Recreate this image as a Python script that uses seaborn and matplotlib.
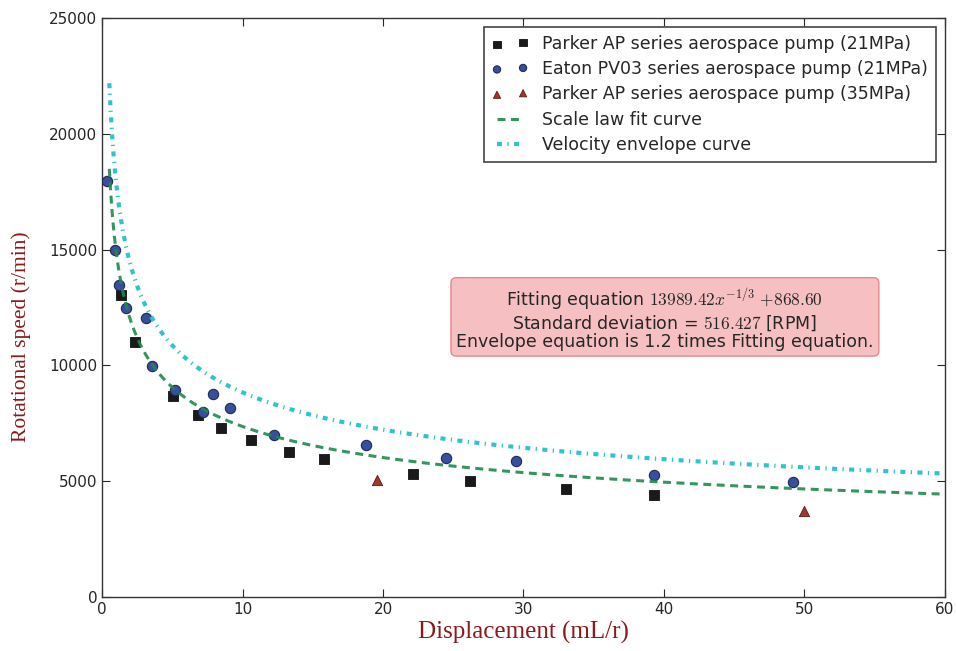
import numpy as np
import matplotlib
matplotlib.use('Agg')
import matplotlib.pyplot as plt
import seaborn as sns

# Parker AP series (21MPa)
parker21_x = [1.35, 2.35, 5.05, 6.83, 8.47, 10.6, 13.3, 15.8, 22.1, 26.2, 33.0, 39.3]
parker21_y = [13040, 11010, 8680, 7860, 7300, 6780, 6260, 5960, 5310, 5010, 4660, 4400]
# Eaton PV03 series (21MPa)
eaton_x = [0.36, 0.93, 1.2, 1.7, 3.13, 3.56, 5.2, 7.19, 7.9, 9.1, 12.2, 18.8, 24.5, 29.5, 39.3, 49.2]
eaton_y = [17960, 14980, 13470, 12480, 12050, 9970, 8940, 7990, 8770, 8160, 7000, 6560, 6000, 5870, 5270, 4970]
# Parker AP series (35MPa)
parker35_x = [19.6, 50.0]
parker35_y = [5050, 3710]

# fit coefficients from the annotation
fit_a, fit_b, fit_p = 13989.42, 868.60, -1.0 / 3.0
env_factor = 1.2

sns.set_style('ticks')
plt.rcParams['font.family'] = ['DejaVu Sans']
plt.rcParams['mathtext.fontset'] = 'cm'

fig = plt.figure(figsize=(9.56, 6.51), dpi=100)
ax = fig.add_axes([0.107, 0.083, 0.881, 0.889])  # box

xs = np.linspace(0.5, 60, 600)
fit_y = fit_a * xs ** fit_p + fit_b
env_y = env_factor * fit_y

sns.scatterplot(x=parker21_x, y=parker21_y, marker='s', s=55, color='#1a1a1a', edgecolor='#111111',
                linewidth=0.6, ax=ax, label='Parker AP series aerospace pump (21MPa)', zorder=3)
sns.scatterplot(x=eaton_x, y=eaton_y, marker='o', s=55, color='#3a4f9c', edgecolor='#1d2a55',
                linewidth=0.8, ax=ax, label='Eaton PV03 series aerospace pump (21MPa)', zorder=3)
sns.scatterplot(x=parker35_x, y=parker35_y, marker='^', s=55, color='#a03830', edgecolor='#5a1a15',
                linewidth=0.6, ax=ax, label='Parker AP series aerospace pump (35MPa)', zorder=3)
sns.lineplot(x=xs, y=fit_y, color='#1e8a4e', lw=2.2, ls=(0, (2.6, 1.8)), ax=ax,
             label='Scale law fit curve', zorder=4, alpha=0.9)
sns.lineplot(x=xs, y=env_y, color='#2ec4cc', lw=3, ls=(0, (1.2, 1.3, 0.3, 1.3)), ax=ax,
             label='Velocity envelope curve', zorder=4)

ax.set_xlim(0, 60)
ax.set_ylim(0, 25000)
ax.set_xticks(np.arange(0, 61, 10))
ax.set_yticks(np.arange(0, 25001, 5000))
ax.tick_params(direction='in', top=True, right=True, length=6, labelsize=11)
for s in ax.spines.values():
    s.set_linewidth(1.0)
    s.set_color('#333333')

ax.set_xlabel('Displacement (mL/r)', family='Liberation Serif', size=18, color='#8b1a1a')
ax.set_ylabel('Rotational speed (r/min)', family='Liberation Serif', size=15.5, color='#8b1a1a')
ax.xaxis.set_label_coords(0.5, -0.042)
ax.yaxis.set_label_coords(-0.085, 0.45)

leg = ax.legend(loc='upper right', scatterpoints=2, numpoints=2, fontsize=12.5, fancybox=False,
                handlelength=2.1, borderpad=0.45, labelspacing=0.42, framealpha=1, markerscale=0.7)
leg.get_frame().set_edgecolor('#444444')
leg.get_frame().set_linewidth(1.2)

txt = ('Fitting equation $13989.42x^{-1/3}$ $+868.60$\n'
       'Standard deviation = $516.427$ [RPM]\n'
       'Envelope equation is 1.2 times Fitting equation.')
ax.text(0.668, 0.481, txt, transform=ax.transAxes, ha='center', va='center', fontsize=12.5,
        multialignment='center', linespacing=1.02,
        bbox=dict(boxstyle='round,pad=0.3', facecolor='#f5b5b8', edgecolor='#e07a80', alpha=0.85))

plt.savefig('out.png', dpi=100)
plt.close()
